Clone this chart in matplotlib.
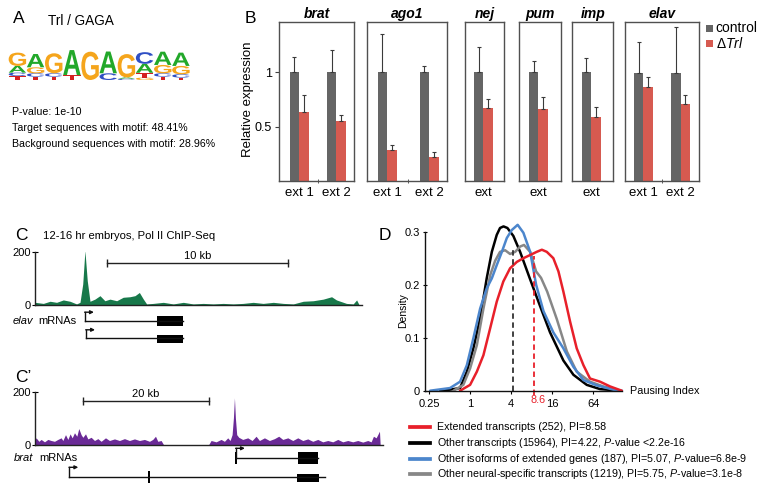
import numpy as np
import matplotlib
matplotlib.use("Agg")
import matplotlib.pyplot as plt
from matplotlib.patches import Rectangle, PathPatch
from matplotlib.textpath import TextPath
from matplotlib.font_manager import FontProperties
from matplotlib.transforms import Affine2D

plt.rcParams['font.family'] = ['Liberation Sans', 'DejaVu Sans']
plt.rcParams['mathtext.fontset'] = 'custom'
plt.rcParams['mathtext.rm'] = 'Liberation Sans'
plt.rcParams['mathtext.it'] = 'Liberation Sans:italic'
plt.rcParams['mathtext.bf'] = 'Liberation Sans:bold'

# ---------------- DATA ----------------
# Panel A: motif logo (bits per letter, stacked bottom -> top)
logo_letters = [["T", "C", "A", "G"], ["T", "C", "G", "A"], ["T", "C", "G"], ["T", "A"], ["G"],
                ["C", "A"], ["C", "A", "G"], ["G", "T", "A", "C"], ["T", "C", "G", "A"], ["T", "C", "G", "A"]]
logo_heights = [[0.25, 0.21, 0.42, 0.83], [0.21, 0.21, 0.375, 0.83], [0.21, 0.21, 1.25], [0.31, 1.56], [1.77],
                [0.42, 1.36], [0.08, 0.08, 1.46], [0.15, 0.30, 0.56, 0.73], [0.21, 0.21, 0.52, 0.83],
                [0.15, 0.21, 0.52, 0.83]]
motif_name = "Trl / GAGA"
motif_stats = ["P-value: 1e-10", "Target sequences with motif: 48.41%",
               "Background sequences with motif: 28.96%"]

# Panel B: qPCR relative expression
genes = ["brat", "ago1", "nej", "pum", "imp", "elav"]
amplicons = [["ext 1", "ext 2"], ["ext 1", "ext 2"], ["ext"], ["ext"], ["ext"], ["ext 1", "ext 2"]]
ctrl_vals = [[1.0, 1.0], [1.0, 1.0], [1.0], [1.0], [1.0], [0.99, 0.99]]
ctrl_errtop = [[1.143, 1.204], [1.348, 1.06], [1.235], [1.106], [1.128], [1.28, 1.418]]
trl_vals = [[0.631, 0.551], [0.285, 0.22], [0.668], [0.659], [0.591], [0.861, 0.708]]
trl_errtop = [[0.787, 0.604], [0.334, 0.267], [0.757], [0.772], [0.683], [0.959, 0.79]]

# Panel C: elav locus Pol II ChIP-seq (kb, signal)
elav_kb = [0.0, 0.46, 0.83, 1.19, 1.56, 1.93, 2.29, 2.48, 2.63, 2.75, 2.88, 3.03, 3.30, 3.58, 3.85, 4.13,
           4.50, 4.86, 5.23, 5.51, 5.75, 5.97, 6.15, 6.52, 7.07, 7.62, 8.17, 8.72, 9.27, 9.82, 10.37,
           10.92, 11.47, 12.02, 12.57, 13.13, 13.68, 14.23, 14.78, 15.33, 15.88, 16.34, 16.61, 17.16,
           17.53, 17.72, 17.86]
elav_sig = [10, 6, 14, 10, 19, 14, 4, 10, 79, 204, 91, 14, 22, 35, 16, 22,
            16, 29, 31, 35, 47, 22, 4, 6, 10, 4, 10, 4, 6, 4, 6,
            4, 6, 10, 6, 10, 6, 4, 14, 16, 22, 31, 19, 6,
            4, 19, 0]
# Panel C': brat locus (kb, signal); NaN = no data
brat_kb = [0.0, 0.26, 0.69, 1.05, 1.58, 2.11, 2.63, 3.16, 3.69, 4.21, 4.48, 4.90, 5.27, 5.63, 5.95, 6.32,
           6.69, 7.00, 7.37, 7.64, 8.06, 8.43, 8.95, 9.48, 10.01, 10.53, 11.22, 11.85, 12.64, 13.43,
           14.22, 15.01, 15.80, 16.59, 17.38, 18.17, 18.69, 19.12, 19.49, 20.01, 20.38, 24.0,
           27.54, 27.91, 28.70, 29.49, 30.02, 30.54, 30.91, 31.23, 31.44, 31.60, 31.75, 31.96, 32.28,
           32.91, 33.70, 34.39, 35.02, 35.55, 36.34, 37.13, 37.92, 38.60, 39.24, 40.03, 40.82, 41.61,
           42.40, 43.19, 43.98, 44.77, 45.56, 46.35, 47.14, 47.93, 48.72, 49.51, 50.30, 51.09, 51.88,
           52.67, 53.20, 53.57, 53.99, 54.25, 54.52, 54.63]
brat_sig = [15, 25, 12, 19, 10, 19, 15, 12, 19, 25, 15, 37, 19, 40, 25, 44,
            31, 60, 37, 27, 40, 21, 27, 15, 22, 12, 25, 15, 21, 15,
            22, 15, 21, 15, 19, 12, 19, 31, 12, 15, 0, np.nan,
            0, 15, 10, 19, 12, 25, 15, 37, 100, 175, 100, 37, 27,
            19, 25, 15, 31, 15, 25, 15, 22, 31, 19, 25, 15, 25,
            15, 21, 12, 19, 10, 15, 10, 19, 10, 15, 10, 15, 9,
            15, 10, 31, 25, 37, 50, 0]
# gene models: (tss, exon start, exon end, line end, extra exon marks)
elav_tx = [(2.75, 6.70, 8.17), (2.81, 6.70, 8.17)]
brat_tx = [(31.75, 41.5, 44.75, 44.75, [31.75]), (5.42, 41.34, 44.9, 45.8, [18.0])]

# Panel D: pausing index densities (log2 PI, density)
red_lx = [-0.49, 0.0, 0.33, 0.65, 0.98, 1.30, 1.62, 1.95, 2.28, 2.60, 2.93, 3.25, 3.50, 3.74, 4.06, 4.31,
          4.55, 4.88, 5.20, 5.53, 5.85, 6.34, 6.83, 7.40]
red_d = [0.0, 0.011, 0.036, 0.067, 0.118, 0.168, 0.206, 0.231, 0.243, 0.25, 0.256, 0.262, 0.266, 0.262,
         0.25, 0.225, 0.187, 0.13, 0.08, 0.048, 0.023, 0.017, 0.008, 0.0]
black_lx = [-1.46, -0.98, -0.49, -0.16, 0.16, 0.49, 0.81, 1.06, 1.30, 1.46, 1.63, 1.82, 2.11, 2.44, 2.93,
            3.41, 3.90, 4.55, 5.04, 5.69, 6.34, 7.32]
black_d = [0.0, 0.002, 0.005, 0.036, 0.08, 0.137, 0.212, 0.262, 0.294, 0.307, 0.31, 0.307, 0.292, 0.262,
           0.21, 0.16, 0.11, 0.057, 0.03, 0.011, 0.003, 0.0]
blue_lx = [-1.95, -0.98, -0.49, -0.16, 0.16, 0.49, 0.81, 1.06, 1.30, 1.55, 1.79, 2.03, 2.32, 2.60, 2.93,
           3.22, 3.58, 4.06, 4.55, 5.04, 5.53, 6.18, 6.99, 7.41]
blue_d = [0.0, 0.005, 0.017, 0.048, 0.099, 0.155, 0.193, 0.212, 0.237, 0.262, 0.288, 0.303, 0.313, 0.298,
          0.262, 0.2, 0.15, 0.11, 0.08, 0.045, 0.02, 0.01, 0.002, 0.0]
gray_lx = [-0.81, -0.33, 0.0, 0.33, 0.65, 0.98, 1.22, 1.46, 1.71, 1.95, 2.20, 2.44, 2.63, 2.93, 3.22, 3.46,
           3.76, 4.23, 4.72, 5.20, 5.85, 6.50, 7.32]
gray_d = [0.0, 0.011, 0.042, 0.086, 0.155, 0.218, 0.245, 0.262, 0.265, 0.258, 0.262, 0.272, 0.275, 0.262,
          0.225, 0.213, 0.187, 0.135, 0.074, 0.036, 0.017, 0.008, 0.0]
median_black = 4.22
median_red = 8.6
legend_labels = ["Extended transcripts (252), PI=8.58",
                 r"Other transcripts (15964), PI=4.22, $\it{P}$-value <2.2e-16",
                 r"Other isoforms of extended genes (187), PI=5.07, $\it{P}$-value=6.8e-9",
                 r"Other neural-specific transcripts (1219), PI=5.75, $\it{P}$-value=3.1e-8"]

# ---------------- FIGURE ----------------
W, H = 764, 490
fig = plt.figure(figsize=(W / 100, H / 100), dpi=100)


def add_ax(l, t, r, b):
    return fig.add_axes([l / W, 1 - b / H, (r - l) / W, (b - t) / H])


def ftext(x, y, s, **kw):
    return fig.text(x / W, 1 - y / H, s, **kw)


# ----- Panel A -----
ftext(13, 23.3, "A", fontsize=12.5, va="baseline")
ftext(48, 25, motif_name, fontsize=9.8, va="baseline")
logo_colors = {"A": "#22a82a", "C": "#2f4fc4", "G": "#f5a51c", "T": "#d42020"}
fp = FontProperties(family="Liberation Sans", weight="bold")
axL = add_ax(8.3, 48, 190, 80)
axL.set_xlim(0, len(logo_letters))
axL.set_ylim(0, 2.0)
axL.axis("off")
for i, (lets, hts) in enumerate(zip(logo_letters, logo_heights)):
    ybase = 0.0
    for ch, h in zip(lets, hts):
        tp = TextPath((0, 0), ch, size=1, prop=fp)
        bb = tp.get_extents()
        tr = Affine2D().translate(-bb.x0, -bb.y0).scale(0.96 / bb.width, h / bb.height).translate(i + 0.02, ybase)
        axL.add_patch(PathPatch(tr.transform_path(tp), fc=logo_colors[ch], ec="none"))
        ybase += h
for k, (s, yb) in enumerate(zip(motif_stats, [115, 130.7, 146.7])):
    ftext(12, yb, s, fontsize=7.7, va="baseline")

# ----- Panel B -----
ftext(245, 23.3, "B", fontsize=12.5, va="baseline")
layout_B = [(279, 354, 299, 37.3), (367.3, 446.7, 387, 42), (465, 504.3, 483.3, 37.3),
            (519, 560.7, 538.3, 37.3), (572.3, 613.3, 591, 37.3), (625, 699, 643.3, 37.4)]
ctrl_col = "#656565"
trl_col = "#d65a50"
bar_px = 9.5
ymax = 1.464
for g, gene in enumerate(genes):
    l, r, c0, unit = layout_B[g]
    ax = add_ax(l, 21.7, r, 181)
    ax.set_xlim((l - c0) / unit, (r - c0) / unit)
    ax.set_ylim(0, ymax)
    w = bar_px / unit
    xs = np.arange(len(amplicons[g]))
    cv = np.array(ctrl_vals[g]); tv = np.array(trl_vals[g])
    ax.bar(xs - w, cv, width=w, align="edge", color=ctrl_col, lw=0)
    ax.bar(xs, tv, width=w, align="edge", color=trl_col, lw=0)
    ax.errorbar(xs - w / 2, cv, yerr=[np.zeros_like(cv), np.array(ctrl_errtop[g]) - cv], fmt="none",
                ecolor="#3a3a3a", elinewidth=0.8, capsize=1.5, capthick=0.8)
    ax.errorbar(xs + w / 2, tv, yerr=[np.zeros_like(tv), np.array(trl_errtop[g]) - tv], fmt="none",
                ecolor="#3a3a3a", elinewidth=0.8, capsize=1.5, capthick=0.8)
    for sp in ax.spines.values():
        sp.set_color("#505050")
        sp.set_linewidth(1.0)
    ax.set_xticks(xs)
    ax.set_xticklabels(amplicons[g], fontsize=9.5)
    ax.tick_params(axis="x", length=0, pad=4)
    if len(xs) > 1:
        ax.set_xticks([0.5], minor=True)
        ax.tick_params(axis="x", which="minor", length=3, direction="inout", color="#404040")
    if g == 0:
        ax.set_yticks([0.5, 1.0])
        ax.set_yticklabels(["0.5", "1"], fontsize=9)
        ax.tick_params(axis="y", length=3, direction="out", pad=2, color="#404040")
    else:
        ax.set_yticks([])
    ax.set_title(gene, fontsize=10, fontweight="bold", style="italic", pad=3)
ftext(247.5, 99, "Relative expression", rotation=90, fontsize=9.5, ha="center", va="center")
fig.add_artist(Rectangle((706 / W, 1 - 32.3 / H), 7 / W, 7 / H, transform=fig.transFigure, color=ctrl_col, lw=0))
fig.add_artist(Rectangle((706 / W, 1 - 46.7 / H), 7 / W, 7 / H, transform=fig.transFigure, color=trl_col, lw=0))
ftext(715.6, 28.5, "control", fontsize=10, va="center")
ftext(715.6, 43, r"$\Delta\it{Trl}$", fontsize=10, va="center")

# ----- Panel C -----
ftext(15, 240, "C", fontsize=12.5, va="baseline")
ftext(43.3, 239.3, "12-16 hr embryos, Pol II ChIP-Seq", fontsize=8.1, va="baseline")


def track(ax, xs, ys, color, xmax):
    xs = np.array(xs, float); ys = np.array(ys, float)
    ok = ~np.isnan(ys)
    ax.fill_between(xs, 0, np.nan_to_num(ys), where=ok, color=color, lw=0, interpolate=False)
    ax.set_xlim(0, xmax)
    ax.set_ylim(0, 200)
    for s in ["top", "right"]:
        ax.spines[s].set_visible(False)
    for s in ["left", "bottom"]:
        ax.spines[s].set_color("#222222")
        ax.spines[s].set_linewidth(1.0)
    ax.set_xticks([])
    ax.set_yticks([0, 200])
    ax.set_yticklabels(["0", "200"], fontsize=8)
    ax.tick_params(axis="y", length=4, direction="inout", pad=1)


axC = add_ax(35, 251.7, 361.7, 305)
track(axC, elav_kb, elav_sig, "#17784a", 18.0)
axC.plot([3.95, 13.95], [159, 159], color="#222222", lw=1.0, marker="|", ms=6, mew=1.0, clip_on=False)
axC.text(8.95, 166, "10 kb", fontsize=8, ha="center", va="bottom")


def gene_models(ax, txs, rows, kb_per_px):
    for tx, (yl, yt, yb) in zip(txs, rows):
        tss, ex0, ex1 = tx[0], tx[1], tx[2]
        lend = tx[3] if len(tx) > 3 else ex1
        marks = tx[4] if len(tx) > 4 else []
        ax.plot([tss, lend], [yl, yl], color="#111111", lw=1.0)
        ax.add_patch(Rectangle((ex0, yt), ex1 - ex0, yb - yt, color="black", lw=0))
        top = yl - 8.5
        for m in marks:
            ax.add_patch(Rectangle((m - 0.8 * kb_per_px, yl - 6), 1.6 * kb_per_px, 12, color="black", lw=0))
            top = yl - 10
        ax.plot([tss, tss], [yl, top], color="#111111", lw=1.0)
        ax.annotate("", xy=(tss + 9 * kb_per_px, top), xytext=(tss - 0.3 * kb_per_px, top),
                    arrowprops=dict(arrowstyle="-|>", color="#111111", lw=1.0, mutation_scale=5,
                                    shrinkA=0, shrinkB=0))


axGC = add_ax(35, 305, 361.7, 350)
axGC.set_xlim(0, 18.0)
axGC.set_ylim(350, 305)
axGC.axis("off")
gene_models(axGC, elav_tx, [(320.7, 316, 325.5), (338.3, 334.5, 343)], 18.0 / 326.7)
ftext(33.3, 321, "elav", fontsize=8, style="italic", ha="right", va="center")
ftext(76.7, 321, "mRNAs", fontsize=8, ha="right", va="center")

# ----- Panel C' -----
ftext(15, 381.7, "C\u2019", fontsize=12.5, va="baseline")
axC2 = add_ax(35, 391.7, 383, 445)
track(axC2, brat_kb, brat_sig, "#6a2a96", 55.0)
axC2.plot([7.54, 27.54], [165, 165], color="#222222", lw=1.0, marker="|", ms=6, mew=1.0, clip_on=False)
axC2.text(17.54, 173, "20 kb", fontsize=8, ha="center", va="bottom")
axGC2 = add_ax(35, 445, 383, 488)
axGC2.set_xlim(0, 55.0)
axGC2.set_ylim(488, 445)
axGC2.axis("off")
gene_models(axGC2, brat_tx, [(458.3, 452, 464), (477.3, 474, 482.3)], 55.0 / 348)
ftext(33.3, 457.5, "brat", fontsize=8, style="italic", ha="right", va="center")
ftext(77.7, 457.5, "mRNAs", fontsize=8, ha="right", va="center")

# ----- Panel D -----
ftext(378.3, 240, "D", fontsize=12.5, va="baseline")
axD = add_ax(425, 231.7, 622, 390.7)
axD.set_xscale("log", base=2)
axD.set_xlim(2 ** -2.2, 2 ** 7.41)
axD.set_ylim(0, 0.3)
curves = {"red": (red_lx, red_d, "#e8202a"), "black": (black_lx, black_d, "#000000"),
          "blue": (blue_lx, blue_d, "#4c86cc"), "gray": (gray_lx, gray_d, "#878787")}
for key in ["black", "gray", "blue", "red"]:
    lx, d, col = curves[key]
    axD.plot(2 ** np.array(lx), d, color=col, lw=1.8, clip_on=False, solid_capstyle="round")
axD.plot([median_black, median_black], [0, 0.27], color="#333333", lw=1.3, ls=(0, (3, 2)), clip_on=False)
axD.plot([median_red, median_red], [-0.008, 0.255], color="#e8202a", lw=1.3, ls=(0, (3, 2)), clip_on=False)
for s in ["top", "right"]:
    axD.spines[s].set_visible(False)
for s in ["left", "bottom"]:
    axD.spines[s].set_color("#111111")
    axD.spines[s].set_linewidth(1.0)
axD.set_xticks([0.25, 1, 4, 16, 64])
axD.set_xticklabels(["0.25", "1", "4", "16", "64"], fontsize=8)
axD.xaxis.set_minor_locator(matplotlib.ticker.NullLocator())
axD.set_yticks([0, 0.1, 0.2, 0.3])
axD.set_yticklabels(["0", "0.1", "0.2", "0.3"], fontsize=8)
axD.tick_params(axis="x", length=2, direction="out", pad=4)
axD.tick_params(axis="y", length=3, direction="inout", pad=2)
ftext(537.7, 400, "8.6", fontsize=7.8, color="#e8202a", ha="center", va="center")
ftext(403, 311, "Density", rotation=90, fontsize=7.5, ha="center", va="center")
ftext(630, 390.7, "Pausing Index", fontsize=7.8, va="center")
leg_cols = ["#e8202a", "#000000", "#4c86cc", "#878787"]
for lab, col, yy in zip(legend_labels, leg_cols, [427.3, 442.7, 459, 474.3]):
    fig.add_artist(plt.Line2D([410 / W, 430 / W], [1 - yy / H, 1 - yy / H], color=col, lw=2.7,
                              transform=fig.transFigure))
    ftext(436.7, yy, lab, fontsize=7.7, va="center")

fig.savefig("out.png", dpi=100)
